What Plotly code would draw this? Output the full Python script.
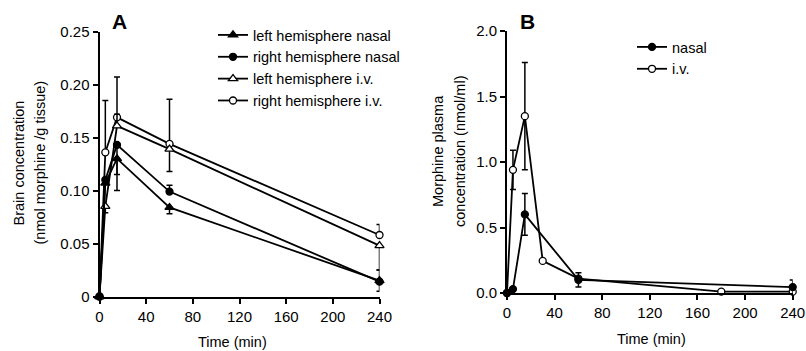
import plotly.graph_objects as go

W, H = 806, 351
FONT = "Liberation Sans, Arial, sans-serif"

# ---------------- Panel A data ----------------
time_brain = [0, 5, 15, 60, 240]
left_nasal = [0, 0.107, 0.130, 0.084, 0.015]
left_nasal_up = [0, 0, 0, 0, 0.010]
left_nasal_dn = [0, 0, 0.015, 0.006, 0]
right_nasal = [0, 0.110, 0.143, 0.099, 0.014]
right_nasal_up = [0, 0, 0, 0.006, 0]
right_nasal_dn = [0, 0, 0.043, 0, 0.009]
left_iv = [0, 0.085, 0.161, 0.139, 0.048]
left_iv_up = [0, 0, 0.011, 0, 0]
left_iv_dn = [0, 0.006, 0, 0.021, 0.023]
right_iv = [0, 0.136, 0.169, 0.144, 0.058]
right_iv_up = [0, 0.049, 0.038, 0.042, 0.010]
right_iv_dn = [0, 0, 0, 0, 0]

a_yticks = [0, 0.05, 0.10, 0.15, 0.20, 0.25]
a_yticklabels = ["0", "0.05", "0.10", "0.15", "0.20", "0.25"]
x_ticks = [0, 40, 80, 120, 160, 200, 240]

# ---------------- Panel B data ----------------
time_plasma_nasal = [0, 5, 15, 60, 240]
plasma_nasal = [0, 0.03, 0.60, 0.10, 0.045]
plasma_nasal_up = [0, 0, 0.16, 0.055, 0.055]
time_plasma_iv = [0, 5, 15, 30, 60, 180, 240]
plasma_iv = [0, 0.94, 1.35, 0.245, 0.11, 0.01, 0.01]
plasma_iv_up = [0, 0.15, 0.41, 0, 0, 0, 0]
b_yticks = [0, 0.5, 1.0, 1.5, 2.0]
b_yticklabels = ["0.0", "0.5", "1.0", "1.5", "2.0"]


def px(x):
    return x / W


def py(y):
    return 1 - y / H


def err(up, dn=None):
    d = dict(type="data", array=up, symmetric=dn is None, color="black",
             thickness=1.5, width=3)
    if dn is not None:
        d["arrayminus"] = dn
    return d


def trace(x, y, name, symbol, fill, up, dn, xa, ya, legend, rank):
    return go.Scatter(
        x=x, y=y, name=name, mode="lines+markers",
        line=dict(color="black", width=1.8),
        marker=dict(symbol=symbol, size=8 if "triangle" in symbol else 7,
                    color=fill, line=dict(color="black", width=1.3)),
        error_y=err(up, dn), xaxis=xa, yaxis=ya, legend=legend,
        legendrank=rank, legendgroup=name, cliponaxis=False,
    )


fig = go.Figure()
# drawn back-to-front so the filled triangle sits on top at the origin
fig.add_trace(trace(time_brain, right_iv, "right hemisphere i.v.", "circle", "white",
                    right_iv_up, right_iv_dn, "x", "y", "legend", 4))
fig.add_trace(trace(time_brain, left_iv, "left hemisphere i.v.", "triangle-up", "white",
                    left_iv_up, left_iv_dn, "x", "y", "legend", 3))
fig.add_trace(trace(time_brain, right_nasal, "right hemisphere nasal", "circle", "black",
                    right_nasal_up, right_nasal_dn, "x", "y", "legend", 2))
fig.add_trace(trace(time_brain, left_nasal, "left hemisphere nasal", "triangle-up", "black",
                    left_nasal_up, left_nasal_dn, "x", "y", "legend", 1))

fig.add_trace(trace(time_plasma_iv, plasma_iv, "i.v.", "circle", "white",
                    plasma_iv_up, None, "x2", "y2", "legend2", 2))
fig.add_trace(trace(time_plasma_nasal, plasma_nasal, "nasal", "circle", "black",
                    plasma_nasal_up, None, "x2", "y2", "legend2", 1))

axis_common = dict(showline=True, linecolor="black", linewidth=2, ticks="outside",
                   ticklen=5, tickwidth=1.5, tickcolor="black", showgrid=False,
                   zeroline=False, tickfont=dict(family=FONT, size=15, color="black"),
                   fixedrange=True)

leg_font = dict(family=FONT, size=14.5, color="black")
fig.update_layout(
    width=W, height=H, margin=dict(l=0, r=0, t=0, b=0, autoexpand=False),
    paper_bgcolor="white", plot_bgcolor="white",
    font=dict(family=FONT, color="black"),
    xaxis=dict(domain=[px(99.5), px(379.5)], range=[0, 240], tickvals=x_ticks,
               anchor="y", **axis_common),
    yaxis=dict(domain=[py(296.5), py(31.5)], range=[0, 0.25], tickvals=a_yticks,
               ticktext=a_yticklabels, anchor="x", **axis_common),
    xaxis2=dict(domain=[px(507), px(792.7)], range=[0, 240], tickvals=x_ticks,
                anchor="y2", **axis_common),
    yaxis2=dict(domain=[py(293), py(31)], range=[0, 2.0], tickvals=b_yticks,
                ticktext=b_yticklabels, anchor="x2", **axis_common),
    legend=dict(x=px(213), y=py(19), xanchor="left", yanchor="top",
                bgcolor="rgba(0,0,0,0)", font=leg_font, tracegroupgap=0,
                traceorder="normal", itemclick=False),
    legend2=dict(x=px(632), y=py(31), xanchor="left", yanchor="top",
                 bgcolor="rgba(0,0,0,0)", font=leg_font, tracegroupgap=0,
                 traceorder="normal", itemclick=False),
    showlegend=True,
)

ann = []


def text(x, y, s, size=14.5, angle=0, bold=False):
    ann.append(dict(x=px(x), y=py(y), xref="paper", yref="paper",
                    text=f"<b>{s}</b>" if bold else s,
                    showarrow=False, textangle=angle, xanchor="center", yanchor="middle",
                    font=dict(family=FONT, size=size, color="black")))


text(119, 22, "A", size=21, bold=True)
text(527, 22, "B", size=21, bold=True)
text(18.5, 163, "Brain concentration", angle=-90)
text(39.5, 163, "(nmol morphine /g tissue)", angle=-90)
text(438, 151, "Morphine plasma", angle=-90)
text(460, 151, "concentration (nmol/ml)", angle=-90)
text(232, 342, "Time (min)")
text(651, 339, "Time (min)")
fig.update_layout(annotations=ann)

fig.write_html("out.html")
